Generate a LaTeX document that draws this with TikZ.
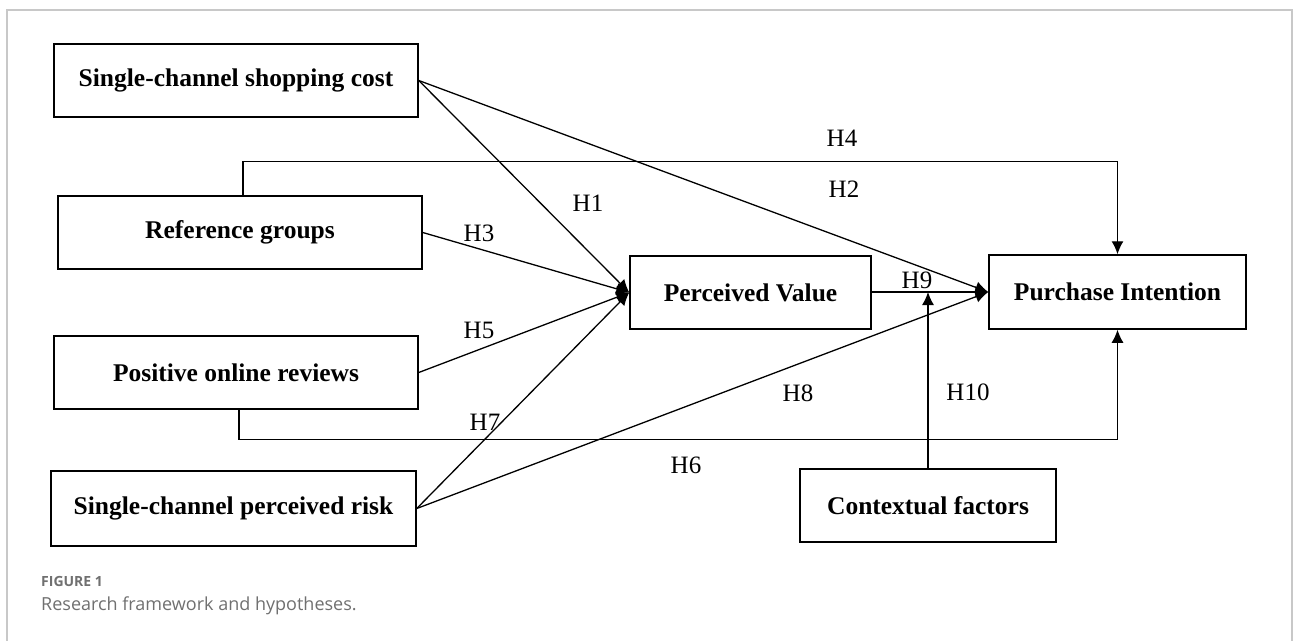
\documentclass[tikz,border=0pt]{standalone}
\usepackage{fontspec}
\setmainfont{Liberation Serif}
\newfontfamily\capfont{Open Sans}
\usetikzlibrary{arrows.meta}
\definecolor{framegray}{HTML}{C8C8C8}
\definecolor{capgray}{HTML}{707070}
\begin{document}
\begin{tikzpicture}[x=1pt,y=-1pt,
  box/.style={draw=black,line width=1.5pt,inner sep=0pt,minimum height=73pt,
    font=\fontsize{25.5}{28}\selectfont\bfseries},
  hlab/.style={inner sep=0pt,font=\fontsize{25}{27}\selectfont},
  arr/.style={draw=black,line width=1.3pt,-{Latex[length=13pt,width=12pt]}},
  ln/.style={draw=black,line width=1.3pt}]
\useasboundingbox (0,0) rectangle (1293,640);
\fill[white] (0,0) rectangle (1293,640);
\draw[framegray,line width=2pt] (7,650) -- (7,9.5) -- (1292,9.5) -- (1292,650);

% boxes
\node[box,minimum width=364pt] (B1) at (236,80.5) {Single-channel shopping cost};
\node[box,minimum width=364pt] (B2) at (240,232.5) {Reference groups};
\node[box,minimum width=364pt] (B3) at (236,372.5) {Positive online reviews};
\node[box,minimum width=365pt,minimum height=75pt] (B4) at (233.5,508.5) {Single-channel perceived risk};
\node[box,minimum width=241pt] (PV) at (750.5,292.5) {Perceived Value};
\node[box,minimum width=257pt,minimum height=74pt] (PI) at (1117.5,292) {Purchase Intention};
\node[box,minimum width=256pt] (CF) at (928,505.5) {Contextual factors};

% connectors
\draw[arr] (B1.east) -- (PV.west);
\draw[arr] (B1.east) -- (PI.west);
\draw[arr] ([xshift=3pt]B2.north) -- ++(0,-34) -| (PI.north);
\draw[arr] (B2.east) -- (PV.west);
\draw[arr] (B3.east) -- (PV.west);
\draw[arr] ([xshift=3pt]B3.south) -- ++(0,30) -| (PI.south);
\draw[arr] (B4.east) -- (PV.west);
\draw[arr] (B4.east) -- (PI.west);
\draw[arr] (PV.east |- PI.west) -- (PI.west);
\coordinate (M) at (CF.north |- PI.west);
\draw[arr] (CF.north) -- (M);

% labels
\node[hlab] (h4) at (842,138) {H4};
\node[hlab] (h2) at (844,189) {H2};
\node[hlab] (h1) at (588,203) {H1};
\node[hlab] (h3) at (479,233) {H3};
\node[hlab] (h9) at (917,280) {H9};
\node[hlab] (h5) at (479,330) {H5};
\node[hlab] (h7) at (485,422) {H7};
\node[hlab] (h8) at (798,393) {H8};
\node[hlab] (h10) at (968,392) {H10};
\node[hlab] (h6) at (686,465) {H6};

% caption
\node[anchor=west,inner sep=0pt,text=capgray,font=\capfont\bfseries\fontsize{14}{16}\selectfont] (fig) at (41,581) {FIGURE 1};
\node[anchor=west,inner sep=0pt,text=capgray,font=\capfont\fontsize{18}{21}\selectfont] (cap) at (41,606) {Research framework and hypotheses.};
\end{tikzpicture}
\end{document}
